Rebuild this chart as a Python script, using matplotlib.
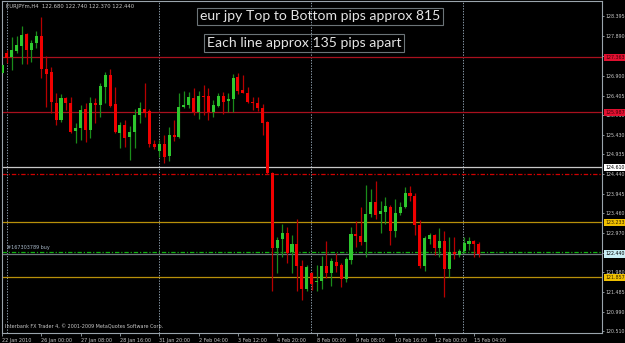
import numpy as np
import matplotlib
matplotlib.use("Agg")
import matplotlib.pyplot as plt
import matplotlib.transforms as mtransforms

# EURJPY H4 candles (oldest first)
opens = np.array([
    126.97, 127.47, 127.37, 127.52, 127.65, 127.95, 127.55, 127.72, 127.90, 127.07,
    127.00, 126.22, 125.79, 126.34, 126.22, 125.52, 125.59, 126.07, 125.54, 126.22,
    126.17, 126.62, 126.92, 126.19, 125.47, 125.67, 125.37, 125.49, 125.92, 126.07,
    126.02, 125.19, 125.02, 125.19, 124.89, 125.42, 125.37, 126.12, 126.17, 126.34,
    125.99, 126.39, 126.39, 125.99, 126.14, 126.39, 126.27, 126.32, 126.87, 126.54,
    126.47, 126.24, 126.22, 126.09, 125.74, 124.47, 122.59, 122.81, 122.96, 122.49,
    122.69, 122.14, 121.56, 121.96, 121.74, 121.76, 122.14, 121.96, 122.24, 122.16,
    121.81, 122.29, 122.94, 122.89, 122.74, 123.44, 123.74, 123.44, 123.49, 123.61,
    123.01, 123.47, 123.61, 123.97, 123.89, 123.16, 122.14, 122.81, 122.91, 122.59,
    122.76, 122.06, 122.49, 122.41, 122.51, 122.69, 122.76, 122.68])
highs = np.array([
    127.22, 127.55, 127.87, 127.90, 128.15, 127.97, 127.80, 128.02, 128.37, 127.40,
    127.12, 126.47, 126.44, 126.37, 126.37, 125.72, 126.17, 126.22, 126.37, 126.34,
    126.72, 127.00, 127.07, 126.62, 125.74, 125.79, 125.64, 126.07, 126.24, 126.72,
    126.07, 125.29, 125.29, 125.42, 125.62, 125.79, 126.47, 126.52, 126.49, 126.59,
    126.52, 126.67, 126.59, 126.29, 126.47, 126.49, 126.47, 126.95, 126.97, 126.92,
    126.62, 126.37, 126.37, 126.19, 125.76, 124.49, 122.86, 123.19, 123.11, 122.91,
    123.32, 122.29, 122.16, 121.99, 122.16, 122.39, 122.76, 122.34, 122.46, 122.21,
    122.36, 123.11, 123.26, 123.61, 124.17, 124.07, 124.27, 123.77, 123.87, 123.66,
    123.82, 123.74, 124.12, 124.14, 123.97, 123.29, 122.89, 122.96, 122.94, 123.09,
    123.01, 122.86, 122.86, 122.56, 122.86, 122.86, 122.79, 122.74])
lows = np.array([
    126.92, 127.22, 127.05, 127.47, 127.20, 127.20, 127.25, 127.60, 126.85, 126.12,
    125.97, 125.67, 125.74, 126.04, 125.47, 125.22, 125.29, 125.24, 125.34, 125.72,
    125.87, 126.22, 126.12, 125.47, 125.09, 125.12, 124.79, 125.09, 125.72, 125.87,
    125.12, 125.07, 124.87, 124.72, 124.77, 125.27, 125.34, 126.09, 126.09, 125.92,
    125.82, 125.92, 125.79, 125.87, 126.12, 125.94, 125.99, 125.99, 126.44, 126.46,
    126.22, 126.04, 126.02, 125.42, 124.44, 121.51, 121.96, 122.36, 122.21, 121.96,
    121.51, 121.29, 121.51, 121.54, 121.51, 121.56, 121.84, 121.64, 121.99, 121.61,
    121.74, 122.19, 122.61, 122.66, 122.36, 123.36, 123.32, 122.96, 123.19, 122.66,
    122.86, 123.42, 123.59, 123.77, 122.91, 122.09, 122.01, 122.69, 122.41, 122.36,
    121.36, 121.86, 122.31, 122.36, 122.46, 122.54, 122.36, 122.37])
closes = np.array([
    127.17, 127.35, 127.55, 127.67, 127.92, 127.55, 127.72, 127.90, 127.07, 126.95,
    126.24, 125.79, 126.34, 126.22, 125.49, 125.59, 126.04, 125.54, 126.22, 126.17,
    126.64, 126.92, 126.14, 125.49, 125.67, 125.34, 125.49, 125.92, 126.09, 125.97,
    125.19, 125.12, 125.19, 124.87, 125.42, 125.37, 126.12, 126.17, 126.37, 125.99,
    126.39, 126.37, 125.99, 126.17, 126.39, 126.24, 126.32, 126.85, 126.52, 126.47,
    126.24, 126.22, 126.09, 125.72, 124.47, 122.59, 122.79, 122.96, 122.46, 122.69,
    122.14, 121.56, 122.11, 121.69, 121.76, 122.14, 121.96, 122.26, 122.14, 121.81,
    122.31, 122.94, 122.89, 122.74, 123.44, 123.74, 123.42, 123.52, 123.64, 123.01,
    123.47, 123.61, 123.97, 123.89, 123.16, 122.14, 122.84, 122.91, 122.59, 122.76,
    122.06, 122.49, 122.44, 122.51, 122.71, 122.76, 122.69, 122.44])

date_labels = ['22 Jan 2010', '26 Jan 00:00', '27 Jan 08:00', '28 Jan 16:00',
               '31 Jan 20:00', '2 Feb 04:00', '3 Feb 12:00', '4 Feb 20:00',
               '8 Feb 00:00', '9 Feb 08:00', '10 Feb 16:00', '12 Feb 00:00',
               '15 Feb 04:00']
price_ticks = [128.395, 127.890, 127.395, 126.900, 126.405, 125.910, 125.430,
               124.935, 124.440, 123.945, 123.460, 122.970, 122.475, 121.980,
               121.485, 120.990, 120.510]

# drawn levels
red_levels = [127.363, 125.987]
gold_levels = [123.233, 121.857]
white_level = 124.610
stop_level = 124.440
order_level = 122.480
bid_level = 122.440

header = 'EURJPYm,H4  122.680 122.740 122.370 122.440'
note1 = 'eur jpy Top to Bottom pips approx 815'
note2 = 'Each line approx 135 pips apart'
order_text = '#167303789 buy'
copyright_text = 'Interbank FX Trader 4, \u00a9 2001-2009 MetaQuotes Software Corp.'

W, H = 625, 343
fg = '#c8c8c8'
frame = '#9aa4ac'
small = 3.5

fig = plt.figure(figsize=(W / 100, H / 100), dpi=100, facecolor='black')
ax = fig.add_axes([2 / W, 10.5 / H, 600 / W, 331.5 / H])
ax.set_facecolor('black')

n = len(opens)
x = np.arange(n)
up = closes >= opens
body_lo = np.minimum(opens, closes)
body_h = np.maximum(np.abs(closes - opens), 0.02)

# vertical dotted grid
for gx in [1.08, 32.0, 62.9, 93.8]:
    ax.axvline(gx, color='#8a9aa8', lw=0.7, ls=(0, (1.4, 1.4)), zorder=1)

# level lines
for lv in red_levels:
    ax.axhline(lv, color='#a8101e', lw=0.9, zorder=1.5)
for lv in gold_levels:
    ax.axhline(lv, color='#b8900a', lw=0.9, zorder=1.5)
ax.axhline(white_level, color='#c8c8c8', lw=0.9, zorder=1.5)
ax.axhline(stop_level, color='#d00000', lw=0.9, ls=(0, (3.5, 1.5, 1, 1.5)), zorder=1.5)
ax.axhline(bid_level, color='#707880', lw=0.9, zorder=1.5)
ax.axhline(order_level, color='#10b010', lw=0.9, ls=(0, (3.5, 1.5, 1, 1.5)), zorder=1.6)

# candles
ax.vlines(x[up], lows[up], highs[up], color='#1a8c1a', lw=0.9, zorder=2)
ax.vlines(x[~up], lows[~up], highs[~up], color='#b80000', lw=0.9, zorder=2)
ax.bar(x[up], body_h[up], bottom=body_lo[up], width=0.62, color='#2ec82e', lw=0, zorder=3)
ax.bar(x[~up], body_h[~up], bottom=body_lo[~up], width=0.62, color='#f00000', lw=0, zorder=3)

ax.set_xlim(0.06, 122.06)
ax.set_ylim(120.472, 128.773)

for s in ax.spines.values():
    s.set_color(frame)
    s.set_linewidth(0.8)

# x axis
ax.set_xticks(x[::8])
ax.set_xticklabels(date_labels, fontsize=small, color=fg, ha='left')
off = mtransforms.ScaledTranslation(2 / 100, 0, fig.dpi_scale_trans)
for lab in ax.get_xticklabels():
    lab.set_transform(lab.get_transform() + off)
ax.tick_params(axis='x', length=2.5, width=0.6, color=frame, pad=1.5)

# y axis on the right
ax.yaxis.tick_right()
ax.set_yticks(price_ticks)
ax.set_yticklabels(['%.3f' % p for p in price_ticks], fontsize=small - 0.1, color=fg)
ax.tick_params(axis='y', length=1.5, width=0.6, color=frame, pad=0.8)

# price boxes
ytr = mtransforms.blended_transform_factory(ax.transAxes, ax.transData)
boxes = [(red_levels[0], '#e01030', '#400008'), (red_levels[1], '#e01030', '#400008'),
         (white_level, '#ffffff', '#000000'), (gold_levels[0], '#f0c000', '#302000'),
         (bid_level, '#c8eef4', '#000000'), (gold_levels[1], '#f0c000', '#302000')]
for lv, fc, tc in boxes:
    ax.text(1.0 + 3 / 600, lv, '%.3f' % lv, transform=ytr, fontsize=small - 0.1, color=tc,
            va='center', ha='left', clip_on=False, zorder=10,
            bbox=dict(boxstyle='square,pad=0.25', fc=fc, ec='none'))

# texts
ax.text(4 / 600, 1 - 5.5 / 331.5, header, transform=ax.transAxes, fontsize=small + 0.3,
        color=fg, va='center', ha='left', zorder=6)
ax.text(5 / 600, order_level + 0.05, order_text, transform=ytr, fontsize=small,
        color='#a8b8c8', va='bottom', ha='left', zorder=6)
ax.text(3 / 600, 6.5 / 331.5, copyright_text, transform=ax.transAxes, fontsize=small,
        color=fg, va='center', ha='left', zorder=6)

note_style = dict(fontsize=10.1, family='Lato', color='#e4e4e4', va='center', ha='left',
                  bbox=dict(boxstyle='square,pad=0.18', fc='none', ec='#6c7478', lw=0.8))
fig.text(200 / W, 1 - 16.5 / H, note1, **note_style)
fig.text(207 / W, 1 - 43 / H, note2, **note_style)

fig.savefig('out.png', dpi=100, facecolor='black')
